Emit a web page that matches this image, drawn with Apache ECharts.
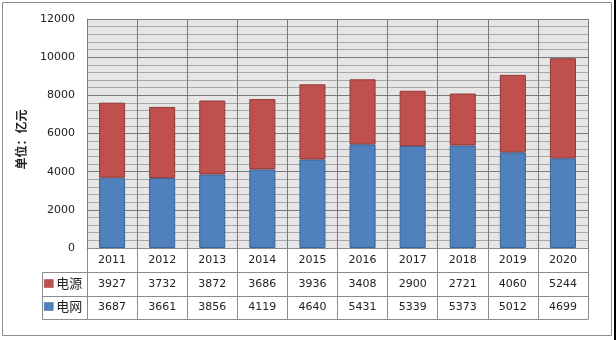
<!DOCTYPE html>
<html><head><meta charset="utf-8">
<script src="https://cdn.jsdelivr.net/npm/echarts@6/dist/echarts.min.js"></script>
<style>html,body{margin:0;padding:0;background:#fff}#c{width:616px;height:340px}</style>
</head><body><div id="c"></div>
<script>
var years = ['2011','2012','2013','2014','2015','2016','2017','2018','2019','2020'];
var powerSource = [3927,3732,3872,3686,3936,3408,2900,2721,4060,5244];
var powerGrid = [3687,3661,3856,4119,4640,5431,5339,5373,5012,4699];
var seriesNames = ['电源','电网'];
var yTicks = {min:0, max:12000, interval:2000};

var chart = echarts.init(document.getElementById('c'));
var numFont = {fontFamily:'DejaVu Sans', fontSize:11, color:'#222', lineHeight:12};
var tableLine = {show:true, lineStyle:{color:'#8c8c8c', width:1}};
function tableAxis(offset, fmt, margin){
  return {type:'category', data:years, position:'bottom', offset:offset, gridIndex:0,
    axisLine: tableLine, axisTick:{show:false}, splitLine:{show:false},
    axisLabel: fmt ? Object.assign({show:true, margin:margin, interval:0, formatter:fmt}, numFont) : {show:false}};
}
chart.setOption({
  animation:false,
  grid:{left:87, right:28, top:19, bottom:92, show:true, backgroundColor:'#e6e6e6', borderWidth:0},
  legend:{orient:'vertical', left:44, top:277, padding:0, data:seriesNames, itemWidth:9, itemHeight:8, itemGap:10, align:'left',
    icon:'rect', textStyle:{fontFamily:'Noto Sans CJK SC', fontSize:13, lineHeight:13, color:'#222', padding:[0,0,0,-2]}, itemStyle:{borderWidth:0.5}},
  xAxis:[
    {type:'category', data:years, position:'bottom', offset:0,
      axisLine:tableLine, axisTick:{show:true, length:71, lineStyle:{color:'#8c8c8c'}},
      splitLine:{show:true, lineStyle:{color:'#7a7a7a'}},
      axisLabel:Object.assign({margin:6, interval:0}, numFont)},
    tableAxis(24, function(v,i){return String(powerSource[i]);}, 6),
    tableAxis(48, function(v,i){return String(powerGrid[i]);}, 5),
    tableAxis(71, null, 0)
  ],
  yAxis:{type:'value', min:yTicks.min, max:yTicks.max, interval:yTicks.interval,
    name:'单位：亿元', nameLocation:'middle', nameRotate:90, nameGap:60,
    nameTextStyle:{fontFamily:'Noto Sans CJK SC', fontSize:12, fontWeight:'bold', color:'#222', padding:[0,12,0,0]},
    axisLine:{show:true, lineStyle:{color:'#7a7a7a'}}, axisTick:{show:false},
    axisLabel:Object.assign({margin:12, formatter:function(v){return String(v);}}, numFont),
    splitLine:{show:true, lineStyle:{color:'#7a7a7a'}},
    minorTick:{show:false, splitNumber:5},
    minorSplitLine:{show:true, lineStyle:{color:'#a8a8a8'}}},
  series:[
    {name:'电网', type:'bar', stack:'t', data:powerGrid, barWidth:'52%',
      itemStyle:{color:'#4f81bd', borderColor:'#3b6496', borderWidth:1}},
    {name:'电源', type:'bar', stack:'t', data:powerSource, barWidth:'52%',
      itemStyle:{color:'#c0504d', borderColor:'#8f3a38', borderWidth:1}}
  ],
  graphic:[
    {type:'rect', shape:{x:2.5, y:2.5, width:609, height:333}, style:{fill:null, stroke:'#8c8c8c', lineWidth:1}, z:-1},
    {type:'rect', shape:{x:614, y:0, width:2, height:340}, style:{fill:'#000'}},
    {type:'rect', shape:{x:42.5, y:272.5, width:45, height:47}, style:{fill:null, stroke:'#8c8c8c', lineWidth:1}},
    {type:'line', shape:{x1:42.5, y1:296.5, x2:87.5, y2:296.5}, style:{stroke:'#8c8c8c', lineWidth:1}}
  ]
});
</script></body></html>
